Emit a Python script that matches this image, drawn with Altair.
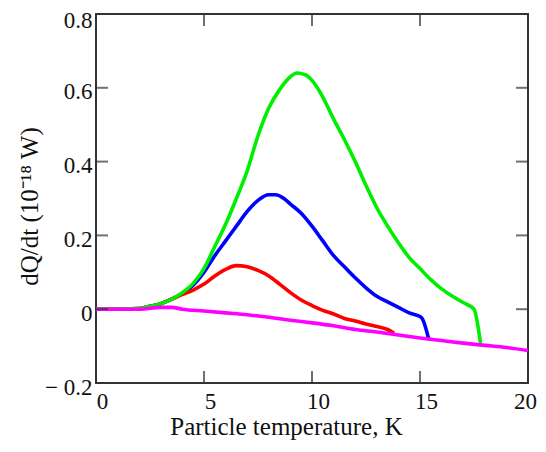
import altair as alt
import pandas as pd

# ---- data ----
green_x = [0, 2, 2.5, 3, 3.5, 4, 4.5, 5, 5.5, 6, 6.5, 7, 7.5, 8, 8.5, 9, 9.3, 9.7, 10, 10.5,
           11, 11.5, 12, 12.5, 13, 13.5, 14, 14.5, 15, 15.5, 16, 16.5, 17, 17.5, 17.8]
green_y = [0, 0.002, 0.008, 0.015, 0.027, 0.045, 0.07, 0.11, 0.17, 0.23, 0.3, 0.375, 0.47, 0.545,
           0.595, 0.63, 0.64, 0.635, 0.62, 0.575, 0.515, 0.46, 0.4, 0.335, 0.275, 0.225, 0.18,
           0.14, 0.11, 0.08, 0.055, 0.035, 0.018, 0.0, -0.092]

blue_x = [0, 2, 2.5, 3, 3.5, 4, 4.5, 5, 5.5, 6, 6.5, 7, 7.5, 8, 8.3, 8.7, 9, 9.5, 10, 10.5,
          11, 11.5, 12, 12.5, 13, 13.5, 14, 14.5, 15, 15.1, 15.4]
blue_y = [0, 0.002, 0.008, 0.015, 0.027, 0.043, 0.065, 0.1, 0.145, 0.185, 0.225, 0.265, 0.295,
          0.31, 0.31, 0.3, 0.285, 0.26, 0.225, 0.185, 0.145, 0.115, 0.085, 0.058, 0.035, 0.02,
          0.005, -0.01, -0.02, -0.025, -0.08]

red_x = [0, 2, 2.5, 3, 3.5, 4, 4.5, 5, 5.5, 6, 6.5, 7, 7.5, 8, 8.5, 9, 9.5, 10, 10.5, 11,
         11.5, 12, 12.5, 13, 13.5, 13.8]
red_y = [0, 0.002, 0.008, 0.015, 0.027, 0.04, 0.052, 0.068, 0.09, 0.108, 0.118, 0.115, 0.105,
         0.09, 0.068, 0.045, 0.025, 0.01, -0.003, -0.013, -0.025, -0.032, -0.04, -0.047,
         -0.055, -0.065]

magenta_x = [0, 2, 3, 3.5, 4, 5, 6, 7, 8, 9, 10, 11, 12, 13, 14, 15, 16, 17, 18, 19, 20]
magenta_y = [0, 0, 0.005, 0.005, 0, -0.005, -0.01, -0.015, -0.022, -0.03, -0.037, -0.045,
             -0.055, -0.062, -0.07, -0.078, -0.085, -0.092, -0.098, -0.104, -0.112]

x_ticks = [5, 10, 15]
y_ticks = [0, 0.2, 0.4, 0.6]
y_label_values = [-0.2, 0, 0.2, 0.4, 0.6, 0.8]
x_label_values = [0, 5, 10, 15, 20]

W, H = 432, 369
FONT = "Liberation Serif"

xs = alt.Scale(domain=[0, 20], nice=False, zero=False)
ys = alt.Scale(domain=[-0.2, 0.8], nice=False, zero=False)

x_axis = alt.Axis(values=x_label_values, title="Particle temperature, K", grid=False,
                  ticks=False, domain=False, labelFont=FONT, labelFontSize=23,
                  labelColor="#111", labelPadding=7,
                  labelOffset={"condition": {"test": "datum.value == 20", "value": -3}, "value": 6},
                  labelFlush=False, labelBound=False,
                  labelOverlap=False, titleFont=FONT, titleFontSize=25, titleFontWeight="normal",
                  titleColor="#111", titleX=190, titleY=51, titleBaseline="alphabetic")
y_axis = alt.Axis(values=y_label_values, title="dQ/dt (10⁻¹⁸ W)", grid=False, ticks=False,
                  domain=False, labelFont=FONT, labelFontSize=23, labelColor="#111",
                  labelPadding=4,
                  labelOffset={"condition": {"test": "datum.value == 0.8", "value": 6}, "value": 4},
                  labelFlush=False, labelOverlap=False,
                  labelExpr="datum.value == 0 ? '0' : (datum.value < 0 ? '− 0.2' : format(datum.value, '.1f'))",
                  titleFont=FONT, titleFontSize=25, titleFontWeight="normal", titleColor="#111",
                  titleAngle=-90, titleX=-59, titleY=192, titleBaseline="alphabetic",
                  titleAlign="center")

series = [
    ("blue", blue_x, blue_y, "#0000ff"),
    ("red", red_x, red_y, "#ff0000"),
    ("green", green_x, green_y, "#00ee00"),
    ("magenta", magenta_x, magenta_y, "#ff00ff"),
]

X = lambda: alt.X("T:Q", scale=xs, axis=x_axis)
Y = lambda: alt.Y("Q:Q", scale=ys, axis=y_axis)

layers = []
for name, sx, sy, col in series:
    df = pd.DataFrame({"T": sx, "Q": sy})
    layers.append(alt.Chart(df).mark_line(color=col, strokeWidth=3.6, clip=True,
                                          interpolate="monotone")
                  .encode(x=X(), y=Y()))

xt = pd.DataFrame({"T": x_ticks})
yt = pd.DataFrame({"Q": y_ticks})
tick_style = dict(color="#333", thickness=2, size=12)
layers.append(alt.Chart(xt).mark_tick(orient="vertical", **tick_style)
              .encode(x=X(), y=alt.value(H - 6)))
layers.append(alt.Chart(xt).mark_tick(orient="vertical", **tick_style)
              .encode(x=X(), y=alt.value(6)))
layers.append(alt.Chart(yt).mark_tick(orient="horizontal", **tick_style)
              .encode(y=Y(), x=alt.value(6)))
layers.append(alt.Chart(yt).mark_tick(orient="horizontal", **tick_style)
              .encode(y=Y(), x=alt.value(W - 6)))

chart = (alt.layer(*layers)
         .properties(width=W, height=H,
                     padding={"left": 88, "top": 6, "right": 10, "bottom": 68},
                     autosize=alt.AutoSizeParams(type="none"))
         .configure(background="white")
         .configure_view(stroke="#333", strokeWidth=2))

chart.save("out.html", embed_options={"renderer": "svg", "actions": False})
